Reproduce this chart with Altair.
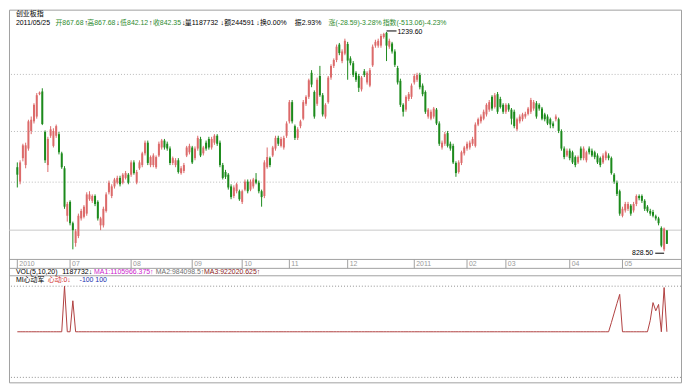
import altair as alt
import pandas as pd

# ---------------- data ----------------
opens = [986, 959, 1003, 990, 1021, 1054, 1072, 1081, 1123, 1128,
         1052, 990, 1045, 1026, 1045, 1048, 1012, 984, 895, 921,
         881, 844, 857, 890, 893, 899, 926, 923, 932, 921,
         877, 877, 904, 939, 932, 950, 957, 966, 957, 966,
         972, 972, 995, 957, 984, 990, 1012, 1032, 990, 990,
         986, 1008, 1023, 1036, 1030, 1021, 994, 990, 999, 975,
         979, 1008, 1014, 1023, 1003, 1021, 1039, 1012, 1032, 1039,
         1023, 1032, 1045, 1032, 990, 977, 972, 950, 932, 941,
         941, 921, 944, 959, 944, 950, 963, 957, 941, 932,
         986, 1003, 1008, 1021, 1041, 1026, 1023, 1045, 1072, 1108,
         1063, 1041, 1063, 1077, 1105, 1118, 1163, 1127, 1105, 1157,
         1121, 1081, 1108, 1154, 1176, 1187, 1216, 1185, 1199, 1217,
         1190, 1181, 1163, 1157, 1132, 1166, 1145, 1139, 1177, 1214,
         1214, 1214, 1230, 1238, 1212, 1218, 1203, 1172, 1148, 1103,
         1094, 1114, 1118, 1145, 1150, 1159, 1139, 1127, 1081, 1077,
         1081, 1094, 1068, 1023, 1030, 1050, 1030, 1026, 994, 977,
         994, 1012, 1021, 1023, 1030, 1026, 1066, 1072, 1077, 1085,
         1094, 1118, 1099, 1123, 1114, 1103, 1090, 1103, 1094, 1090,
         1057, 1072, 1076, 1081, 1086, 1090, 1096, 1106, 1103, 1096,
         1085, 1081, 1076, 1068, 1076, 1076, 1054, 1021, 1008, 1017,
         1014, 1005, 995, 1021, 1003, 999, 1021, 1017, 1014, 1008,
         1003, 995, 1003, 1008, 1003, 972, 957, 941, 895, 905,
         908, 914, 905, 917, 932, 932, 923, 912, 904, 902,
         894, 890, 872, 832, 867.68]
highs = [995, 999, 1030, 1032, 1075, 1081, 1106, 1125, 1128, 1134,
         1055, 1043, 1063, 1059, 1066, 1052, 1015, 988, 921, 924,
         884, 870, 899, 908, 915, 939, 941, 935, 935, 924,
         893, 912, 939, 961, 954, 966, 970, 970, 975, 979,
         975, 999, 999, 981, 999, 1015, 1036, 1036, 1008, 1012,
         1008, 1034, 1039, 1039, 1034, 1025, 1006, 1003, 1003, 988,
         994, 1026, 1030, 1026, 1025, 1045, 1043, 1026, 1036, 1043,
         1043, 1048, 1048, 1036, 994, 981, 975, 954, 952, 957,
         944, 944, 963, 963, 963, 966, 975, 961, 944, 999,
         1023, 1006, 1026, 1045, 1045, 1043, 1045, 1072, 1112, 1112,
         1066, 1061, 1075, 1112, 1121, 1152, 1168, 1130, 1154, 1176,
         1125, 1106, 1157, 1179, 1190, 1216, 1219, 1207, 1227, 1221,
         1194, 1185, 1166, 1161, 1157, 1170, 1166, 1172, 1216, 1225,
         1227, 1236, 1238, 1239.6, 1227, 1221, 1207, 1176, 1152, 1106,
         1121, 1127, 1143, 1161, 1163, 1163, 1143, 1130, 1097, 1094,
         1099, 1097, 1072, 1036, 1052, 1054, 1034, 1030, 997, 999,
         1017, 1026, 1034, 1036, 1043, 1070, 1079, 1085, 1094, 1106,
         1112, 1121, 1125, 1127, 1118, 1106, 1106, 1106, 1097, 1094,
         1079, 1085, 1088, 1090, 1099, 1116, 1112, 1110, 1106, 1099,
         1088, 1085, 1079, 1072, 1085, 1079, 1057, 1025, 1021, 1021,
         1017, 1008, 1008, 1025, 1025, 1017, 1025, 1021, 1017, 1012,
         1006, 1012, 1017, 1012, 1006, 975, 961, 944, 912, 921,
         921, 917, 921, 935, 935, 935, 926, 915, 908, 906,
         897, 893, 875, 873, 867.68]
lows = [948, 954, 997, 984, 1017, 1048, 1068, 1077, 1121, 1065,
        994, 977, 1041, 1023, 1041, 1010, 983, 908, 884, 877,
        832, 837, 853, 886, 890, 895, 923, 919, 913, 886,
        868, 873, 901, 935, 928, 946, 954, 950, 954, 963,
        954, 968, 972, 954, 981, 986, 1008, 990, 986, 986,
        983, 1005, 1019, 1019, 1017, 990, 990, 986, 974, 972,
        975, 1005, 1010, 992, 999, 1017, 1005, 1008, 1017, 1019,
        1019, 1028, 1026, 986, 963, 964, 944, 926, 928, 937,
        923, 917, 941, 937, 941, 946, 954, 937, 912, 928,
        983, 986, 1005, 1017, 1026, 1023, 1019, 1041, 1068, 1068,
        1037, 1037, 1059, 1074, 1101, 1114, 1136, 1077, 1101, 1118,
        1081, 1077, 1105, 1150, 1172, 1183, 1196, 1181, 1196, 1150,
        1177, 1155, 1146, 1127, 1128, 1155, 1141, 1136, 1174, 1210,
        1210, 1210, 1227, 1185, 1208, 1199, 1174, 1141, 1099, 1081,
        1090, 1110, 1114, 1141, 1146, 1132, 1119, 1086, 1077, 1074,
        1077, 1065, 1026, 1019, 1026, 1023, 1017, 992, 968, 974,
        990, 1008, 1017, 1019, 1026, 1023, 1063, 1068, 1074, 1081,
        1090, 1092, 1096, 1086, 1096, 1086, 1086, 1090, 1066, 1059,
        1054, 1068, 1072, 1077, 1083, 1086, 1092, 1077, 1092, 1074,
        1072, 1065, 1059, 1059, 1072, 1050, 1017, 1001, 1005, 999,
        992, 986, 992, 999, 999, 995, 1010, 1005, 1001, 992,
        986, 992, 999, 999, 972, 955, 932, 895, 892, 901,
        904, 895, 901, 913, 924, 919, 904, 901, 895, 892,
        886, 877, 836, 828.5, 842.12]
closes = [972, 995, 1027, 1027, 1072, 1075, 1103, 1121, 1126, 1067,
          999, 1039, 1057, 1054, 1063, 1014, 986, 912, 917, 881,
          868, 866, 895, 904, 912, 935, 935, 932, 917, 890,
          890, 908, 935, 957, 950, 963, 966, 954, 972, 975,
          957, 995, 975, 977, 995, 1012, 1032, 994, 1005, 1008,
          1005, 1030, 1036, 1023, 1021, 994, 1003, 999, 977, 984,
          990, 1023, 1026, 995, 1021, 1041, 1008, 1023, 1021, 1023,
          1039, 1045, 1030, 990, 966, 968, 948, 930, 948, 954,
          926, 941, 959, 941, 959, 963, 957, 941, 930, 995,
          1005, 990, 1023, 1041, 1030, 1039, 1041, 1068, 1108, 1072,
          1041, 1057, 1072, 1108, 1118, 1149, 1141, 1081, 1150, 1121,
          1085, 1103, 1154, 1176, 1187, 1212, 1200, 1203, 1223, 1186,
          1181, 1159, 1150, 1135, 1154, 1159, 1163, 1168, 1212, 1221,
          1223, 1232, 1236, 1214, 1223, 1203, 1178, 1145, 1103, 1090,
          1118, 1123, 1139, 1157, 1159, 1136, 1123, 1090, 1094, 1090,
          1096, 1068, 1030, 1032, 1048, 1026, 1021, 995, 975, 995,
          1014, 1023, 1030, 1032, 1039, 1066, 1076, 1081, 1090, 1103,
          1108, 1096, 1121, 1090, 1099, 1090, 1103, 1094, 1077, 1063,
          1076, 1081, 1085, 1086, 1096, 1112, 1108, 1081, 1096, 1077,
          1076, 1068, 1066, 1063, 1081, 1054, 1021, 1005, 1017, 1003,
          995, 990, 1005, 1003, 1021, 1014, 1014, 1008, 1005, 995,
          990, 1008, 1014, 1003, 975, 959, 936, 899, 908, 917,
          917, 899, 917, 932, 928, 923, 908, 904, 899, 895,
          890, 881, 839, 870.94, 842.35]
signal = [0, 0, 0, 0, 0, 0, 0, 0, 0, 0, 0, 0, 0, 0, 0, 0, 0, 100, 0, 0,
          68, 0, 0, 0, 0, 0, 0, 0, 0, 0, 0, 0, 0, 0, 0, 0, 0, 0, 0, 0,
          0, 0, 0, 0, 0, 0, 0, 0, 0, 0, 0, 0, 0, 0, 0, 0, 0, 0, 0, 0,
          0, 0, 0, 0, 0, 0, 0, 0, 0, 0, 0, 0, 0, 0, 0, 0, 0, 0, 0, 0,
          0, 0, 0, 0, 0, 0, 0, 0, 0, 0, 0, 0, 0, 0, 0, 0, 0, 0, 0, 0,
          0, 0, 0, 0, 0, 0, 0, 0, 0, 0, 0, 0, 0, 0, 0, 0, 0, 0, 0, 0,
          0, 0, 0, 0, 0, 0, 0, 0, 0, 0, 0, 0, 0, 0, 0, 0, 0, 0, 0, 0,
          0, 0, 0, 0, 0, 0, 0, 0, 0, 0, 0, 0, 0, 0, 0, 0, 0, 0, 0, 0,
          0, 0, 0, 0, 0, 0, 0, 0, 0, 0, 0, 0, 0, 0, 0, 0, 0, 0, 0, 0,
          0, 0, 0, 0, 0, 0, 0, 0, 0, 0, 0, 0, 0, 0, 0, 0, 0, 0, 0, 0,
          0, 0, 0, 0, 0, 0, 0, 0, 0, 0, 0, 0, 0, 0, 20, 41, 62, 82, 0, 0,
          0, 0, 0, 0, 0, 0, 0, 0, 25, 64, 46, 60, 0, 97, 0]

month_idx = [0, 19, 41, 63, 81, 98, 119, 143, 162, 176, 199, 218]
month_lbl = ["2010", "07", "08", "09", "10", "11", "12", "2011", "02", "03", "04", "05"]
grid_dotted = [1160, 1053, 958]
grid_solid = [868]
sig_grid = [100, -100]

title_text = "创业板指"
header_texts = ["2011/05/25", "开867.68", "↑", "高867.68", "↓", "低842.12", "↑",
                "收842.35", "↓", "量1187732", "↓", "额244591", "↓", "换0.00%",
                "振2.93%", "涨(-28.59)-3.28%", "指数(-513.06)-4.23%"]
vol_texts = ["VOL(5,10,20)", "1187732↓", "MA1:1105966.375↑", "MA2:984098.5↑", "MA3:922020.625↑"]
sig_texts = ["MI心动军", "心动:0↓", "-100  100"]
hi_label = "1239.60"
lo_label = "828.50"

# ---------------- layout / style ----------------
SX = 682 / 690
SY = 378 / 386
FONT = "Liberation Sans, Noto Sans CJK SC, sans-serif"
FS = 7
RED = "#dc6a6a"
GREEN = "#1c8a1c"
TXT_GREEN = "#2e8b2e"
GRID = "#b8b8b8"
FRAME = "#a0a0a0"
W = 678
H = 376          # whole drawing
HP = 252         # price panel height
AX = 9           # date row height

XDOM = [-1.217, 237.3]
PPX = (1281.4 - 813.1) / HP                 # price units per pixel
YDOM = [1281.4 - PPX * H, 1281.4]           # price scale over whole height
SPX = 250.0 / (H - HP - AX)                 # signal units per pixel
SDOM = [-110.9, -110.9 + SPX * H]           # signal scale over whole height

xscale = alt.Scale(domain=XDOM, nice=False, zero=False)
yscale = alt.Scale(domain=YDOM, nice=False, zero=False)
sscale = alt.Scale(domain=SDOM, nice=False, zero=False)


def px_to_i(px):
    return XDOM[0] + (px * SX) / W * (XDOM[1] - XDOM[0])


def pix_to_p(py):
    return YDOM[1] - py * PPX


def pix_to_s(py):
    return SDOM[1] - py * SPX


n = len(closes)
cols = [RED if c >= o else GREEN for o, c in zip(opens, closes)]
df = pd.DataFrame({"i": list(range(n)), "o": opens, "h": highs, "l": lows, "c": closes, "col": cols})
sig_df = pd.DataFrame({"i": list(range(n)), "v": signal})

X = alt.X("i:Q", scale=xscale, axis=None)

wicks = alt.Chart(df).mark_rule(strokeWidth=1).encode(
    x=X, y=alt.Y("l:Q", scale=yscale, axis=None), y2="h:Q",
    color=alt.Color("col:N", scale=None))
bodies = alt.Chart(df).mark_bar(width=2).encode(
    x=X, y=alt.Y("o:Q", scale=yscale, axis=None), y2="c:Q",
    color=alt.Color("col:N", scale=None))
grid1 = alt.Chart(pd.DataFrame({"p": grid_dotted})).mark_rule(
    color=GRID, strokeDash=[1, 2], strokeWidth=1).encode(y=alt.Y("p:Q", scale=yscale, axis=None))
grid2 = alt.Chart(pd.DataFrame({"p": grid_solid})).mark_rule(
    color="#c8c8c8", strokeWidth=1).encode(y=alt.Y("p:Q", scale=yscale, axis=None))

# panel separators (price panel bottom, lower panel top, row separator)
frames_p = alt.Chart(pd.DataFrame({"p": [pix_to_p(HP)]})).mark_rule(color=FRAME, strokeWidth=1).encode(
    y=alt.Y("p:Q", scale=yscale, axis=None))
frames_s = alt.Chart(pd.DataFrame({"v": [pix_to_s(HP + AX), pix_to_s(HP + AX + 7.5)]})).mark_rule(
    color=FRAME, strokeWidth=1).encode(y=alt.Y("v:Q", scale=sscale, axis=None))

# date row: month ticks and labels
mdf = pd.DataFrame({"i": month_idx, "t": month_lbl, "a": [pix_to_p(HP)] * len(month_idx),
                    "b": [pix_to_p(HP + AX)] * len(month_idx), "m": [pix_to_p(HP + 4.8)] * len(month_idx)})
mticks = alt.Chart(mdf).mark_rule(color=FRAME, strokeWidth=1).encode(
    x=X, y=alt.Y("a:Q", scale=yscale, axis=None), y2="b:Q")
mlabels = alt.Chart(mdf).mark_text(align="left", baseline="middle", font=FONT, fontSize=FS, dx=2,
                                   color="#9a9a9a").encode(
    x=X, y=alt.Y("m:Q", scale=yscale, axis=None), text="t:N")

# header texts
header_x = [2, 43, 73, 76, 106, 110, 140, 144, 174, 177, 214, 218, 251, 255, 291, 326, 382]
header_c = ["#000000", TXT_GREEN, "#000000", TXT_GREEN, "#000000", TXT_GREEN, "#000000",
            TXT_GREEN, "#000000", "#000000", "#000000", "#000000", "#000000", "#000000",
            "#000000", TXT_GREEN, TXT_GREEN]
hdr = pd.DataFrame({
    "t": [title_text] + header_texts,
    "xi": [px_to_i(2)] + [px_to_i(x) for x in header_x],
    "yp": [pix_to_p(4.5 * SY)] + [pix_to_p(13.5 * SY)] * len(header_texts),
    "col": ["#000000"] + header_c,
})
hdr_text = alt.Chart(hdr).mark_text(align="left", baseline="middle", font=FONT, fontSize=FS).encode(
    x=alt.X("xi:Q", scale=xscale, axis=None), y=alt.Y("yp:Q", scale=yscale, axis=None), text="t:N",
    color=alt.Color("col:N", scale=None))

# extreme-value labels
hdf = pd.DataFrame({"i": [133], "i2": [136.6], "p": [1239.6], "t": [hi_label]})
ldf = pd.DataFrame({"i": [233], "i2": [229.8], "p": [828.5], "t": [lo_label]})
hi_line = alt.Chart(hdf).mark_rule(color="#000000", strokeWidth=1, yOffset=-1).encode(
    x=X, x2="i2:Q", y=alt.Y("p:Q", scale=yscale, axis=None))
hi_txt = alt.Chart(hdf).mark_text(align="left", baseline="middle", font=FONT, fontSize=FS, dx=11, dy=0,
                                  color="#000000").encode(x=X, y=alt.Y("p:Q", scale=yscale, axis=None), text="t:N")
lo_line = alt.Chart(ldf).mark_rule(color="#000000", strokeWidth=1, yOffset=2).encode(
    x=X, x2="i2:Q", y=alt.Y("p:Q", scale=yscale, axis=None))
lo_txt = alt.Chart(ldf).mark_text(align="right", baseline="middle", font=FONT, fontSize=FS, dx=-11, dy=2,
                                  color="#000000").encode(x=X, y=alt.Y("p:Q", scale=yscale, axis=None), text="t:N")

# lower panel
sgrid = alt.Chart(pd.DataFrame({"v": sig_grid})).mark_rule(
    color="#909090", strokeDash=[1, 2], strokeWidth=1).encode(y=alt.Y("v:Q", scale=sscale, axis=None))
sline = alt.Chart(sig_df).mark_line(color="#b04040", strokeWidth=1).encode(
    x=X, y=alt.Y("v:Q", scale=sscale, axis=None))

vol_x = [2, 50, 83, 147, 197]
vol_c = ["#000000", "#000000", "#cc22cc", "#707070", "#8a1a1a"]
sig_x = [2, 35, 68]
sig_c = ["#000000", "#d03030", "#2030b0"]
low_df = pd.DataFrame({
    "t": vol_texts + sig_texts,
    "xi": [px_to_i(x) for x in vol_x + sig_x],
    "v": [pix_to_s(HP + AX + 3.6)] * len(vol_texts) + [pix_to_s(HP + AX + 12)] * len(sig_texts),
    "col": vol_c + sig_c,
})
low_text = alt.Chart(low_df).mark_text(align="left", baseline="middle", font=FONT, fontSize=FS).encode(
    x=alt.X("xi:Q", scale=xscale, axis=None), y=alt.Y("v:Q", scale=sscale, axis=None), text="t:N",
    color=alt.Color("col:N", scale=None))

price_part = alt.layer(grid1, grid2, wicks, bodies, hi_line, hi_txt, lo_line, lo_txt, hdr_text,
                       frames_p, mticks, mlabels)
sig_part = alt.layer(sgrid, sline, frames_s, low_text)

chart = alt.layer(price_part, sig_part).resolve_scale(y="independent").properties(
    width=W, height=H, padding=0, background="#ffffff").configure_view(stroke=FRAME, strokeWidth=1)

chart.save("out.html", embed_options={"renderer": "svg", "actions": False})
